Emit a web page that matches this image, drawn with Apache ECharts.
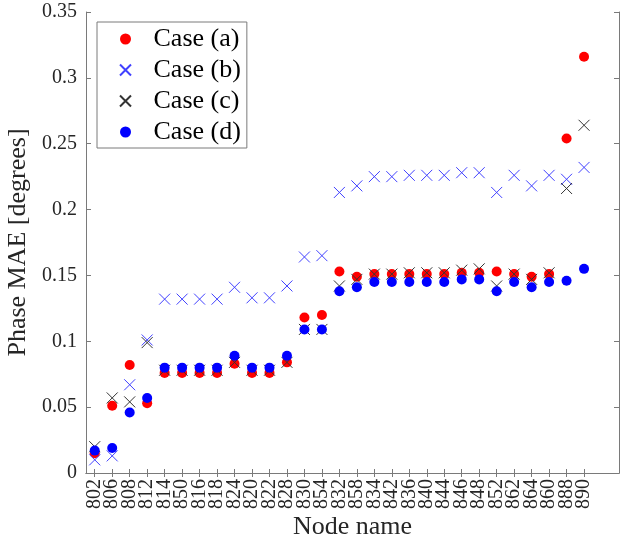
<!DOCTYPE html>
<html>
<head>
<meta charset="utf-8">
<script src="https://cdn.jsdelivr.net/npm/echarts@6/dist/echarts.min.js"></script>
<style>
  html, body { margin: 0; padding: 0; background: #fff; }
  #chart { width: 635px; height: 541px; }
</style>
</head>
<body>
<div id="chart"></div>
<script>
const nodes = ["802", "806", "808", "812", "814", "850", "816", "818", "824", "820", "822", "828", "830", "854",
  "832", "858", "834", "842", "836", "840", "844", "846", "848", "852", "862", "864", "860", "888", "890"];

const caseA = [0.015, 0.051, 0.082, 0.053, 0.076, 0.076, 0.076, 0.076, 0.083, 0.076, 0.076, 0.084, 0.118, 0.120,
  0.153, 0.149, 0.151, 0.151, 0.151, 0.151, 0.151, 0.152, 0.152, 0.153, 0.151, 0.149, 0.151, 0.254, 0.316];
const caseB = [0.010, 0.013, 0.067, 0.101, 0.132, 0.132, 0.132, 0.132, 0.141, 0.133, 0.133, 0.142, 0.164, 0.165,
  0.213, 0.218, 0.225, 0.225, 0.226, 0.226, 0.226, 0.228, 0.228, 0.213, 0.226, 0.218, 0.226, 0.223, 0.232];
const caseC = [0.020, 0.057, 0.054, 0.099, 0.078, 0.078, 0.078, 0.078, 0.084, 0.078, 0.078, 0.084, 0.109, 0.109,
  0.142, 0.147, 0.151, 0.151, 0.152, 0.152, 0.152, 0.154, 0.155, 0.142, 0.151, 0.147, 0.152, 0.216, 0.264];
const caseD = [0.017, 0.019, 0.046, 0.057, 0.080, 0.080, 0.080, 0.080, 0.089, 0.080, 0.080, 0.089, 0.109, 0.109,
  0.138, 0.141, 0.145, 0.145, 0.145, 0.145, 0.145, 0.147, 0.147, 0.138, 0.145, 0.141, 0.145, 0.146, 0.155];

const seriesNames = ["Case (a)", "Case (b)", "Case (c)", "Case (d)"];

const FONT = "Liberation Serif";
const AXIS_COLOR = "#7a7a7a";
const TEXT_COLOR = "#262626";
const CROSS = "path://M0,0L10,10M10,0L0,10";
const X_MIN = 0.5;
const X_MAX = 31;
const tickPositions = nodes.map((_, i) => i + 1);

// plot box in pixels
const GRID = { left: 86, top: 12, right: 16, bottom: 68, outerBoundsMode: "none" };
const plotWidth = 635 - GRID.left - GRID.right;
const unit = plotWidth / (X_MAX - X_MIN);

function toPoints(values) {
  return values.map((v, i) => [i + 1, v]);
}

const chart = echarts.init(document.getElementById("chart"));

const xTick = { show: true, inside: true, length: 4, customValues: tickPositions, lineStyle: { color: AXIS_COLOR } };
const yTick = { show: true, inside: true, length: 5, lineStyle: { color: AXIS_COLOR } };

chart.setOption({
  animation: false,
  grid: [
    GRID,
    // label-only grid: one band per node, centred on the main axis ticks
    {
      left: GRID.left,
      top: GRID.top,
      bottom: GRID.bottom,
      width: unit * nodes.length,
      outerBoundsMode: "none"
    }
  ],
  legend: {
    orient: "vertical",
    left: 97,
    top: 22,
    padding: [2, 6, 1, 22],
    itemGap: 1,
    itemWidth: 46,
    itemHeight: 11,
    backgroundColor: "#fff",
    borderColor: AXIS_COLOR,
    borderWidth: 1,
    textStyle: { fontFamily: FONT, fontSize: 26, lineHeight: 30, color: "#000" },
    data: seriesNames
  },
  xAxis: [
    {
      type: "value",
      gridIndex: 0,
      min: X_MIN,
      max: X_MAX,
      name: "Node name",
      nameLocation: "middle",
      nameGap: 41,
      nameTextStyle: { fontFamily: FONT, fontSize: 26, color: TEXT_COLOR },
      axisLine: { lineStyle: { color: AXIS_COLOR } },
      axisTick: xTick,
      splitLine: { show: false },
      axisLabel: { show: false }
    },
    {
      type: "value",
      gridIndex: 0,
      position: "top",
      min: X_MIN,
      max: X_MAX,
      axisLine: { show: true, lineStyle: { color: AXIS_COLOR } },
      axisTick: xTick,
      axisLabel: { show: false },
      splitLine: { show: false }
    },
    {
      type: "category",
      gridIndex: 1,
      data: nodes,
      boundaryGap: true,
      axisLine: { show: false },
      axisTick: { show: false },
      splitLine: { show: false },
      axisLabel: {
        interval: 0,
        rotate: 90,
        margin: 6,
        fontFamily: FONT,
        fontSize: 20,
        color: TEXT_COLOR
      }
    }
  ],
  yAxis: [
    {
      type: "value",
      gridIndex: 0,
      min: 0,
      max: 0.35,
      interval: 0.05,
      name: "Phase MAE [degrees]",
      nameLocation: "middle",
      nameGap: 46,
      nameTextStyle: { fontFamily: FONT, fontSize: 26, color: TEXT_COLOR },
      axisLine: { show: true, lineStyle: { color: AXIS_COLOR } },
      axisTick: yTick,
      splitLine: { show: false },
      axisLabel: { margin: 9, fontFamily: FONT, fontSize: 20, color: TEXT_COLOR }
    },
    {
      type: "value",
      gridIndex: 0,
      position: "right",
      min: 0,
      max: 0.35,
      interval: 0.05,
      axisLine: { show: true, lineStyle: { color: AXIS_COLOR } },
      axisTick: yTick,
      axisLabel: { show: false },
      splitLine: { show: false }
    },
    {
      type: "value",
      gridIndex: 1,
      show: false
    }
  ],
  series: [
    {
      name: seriesNames[0],
      type: "scatter",
      symbol: "circle",
      symbolSize: 10,
      itemStyle: { color: "#ff0000", opacity: 1 },
      data: toPoints(caseA)
    },
    {
      name: seriesNames[1],
      type: "scatter",
      symbol: CROSS,
      symbolSize: 11,
      itemStyle: { color: "transparent", borderColor: "#4040ff", borderWidth: 1, opacity: 1 },
      data: toPoints(caseB)
    },
    {
      name: seriesNames[2],
      type: "scatter",
      symbol: CROSS,
      symbolSize: 11,
      itemStyle: { color: "transparent", borderColor: "#333333", borderWidth: 1, opacity: 1 },
      data: toPoints(caseC)
    },
    {
      name: seriesNames[3],
      type: "scatter",
      symbol: "circle",
      symbolSize: 10,
      itemStyle: { color: "#0000ff", opacity: 1 },
      data: toPoints(caseD)
    }
  ]
});
</script>
</body>
</html>
